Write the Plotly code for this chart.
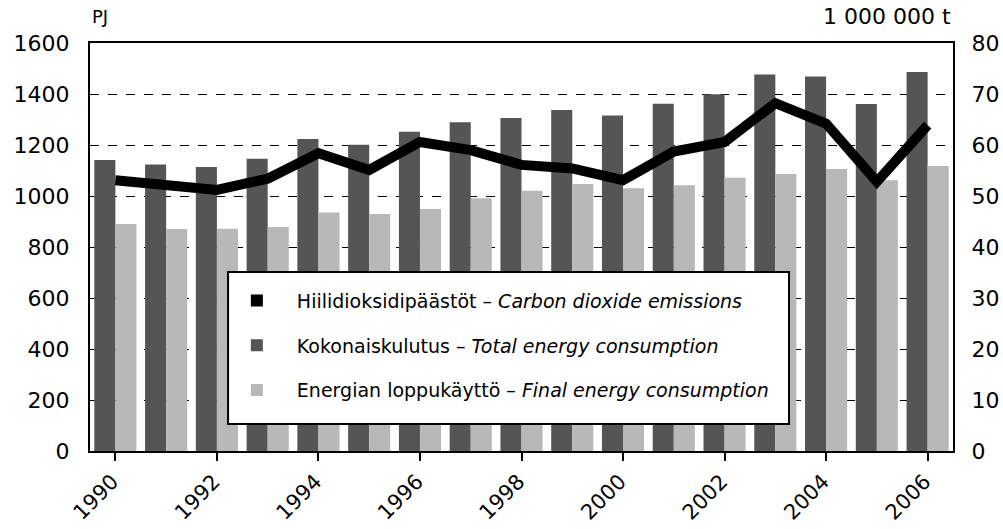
import plotly.graph_objects as go

years = list(range(1990, 2007))
total_energy = [1141, 1124, 1114, 1146, 1224, 1201, 1252, 1289, 1306, 1337, 1316, 1362, 1399, 1476, 1469, 1361, 1486]
final_energy = [890, 871, 872, 878, 935, 929, 949, 991, 1021, 1047, 1030, 1042, 1072, 1086, 1106, 1062, 1118]
co2 = [53.1, 52.2, 51.2, 53.4, 58.4, 55.1, 60.6, 59.0, 56.1, 55.4, 53.1, 58.7, 60.6, 68.2, 64.2, 52.8, 63.9]

label_co2 = "Hiilidioksidipäästöt – <i>Carbon dioxide emissions</i>"
label_total = "Kokonaiskulutus – <i>Total energy consumption</i>"
label_final = "Energian loppukäyttö – <i>Final energy consumption</i>"

FONT = "DejaVu Sans"
DARK = "#555555"
LIGHT = "#b8b8b8"

fig = go.Figure()
fig.add_trace(go.Bar(x=years, y=total_energy, marker=dict(color=DARK, line=dict(width=0)),
                     showlegend=False, name=label_total))
fig.add_trace(go.Bar(x=years, y=final_energy, marker=dict(color=LIGHT, line=dict(width=0)),
                     showlegend=False, name=label_final))
fig.add_trace(go.Scatter(x=years, y=co2, yaxis="y2", mode="lines",
                         line=dict(color="black", width=10), showlegend=False, name=label_co2))

# legend entries (square markers as in the original)
for name, col, grp in [(label_co2, "black", "a"), (label_total, DARK, "b"), (label_final, LIGHT, "c")]:
    fig.add_trace(go.Scatter(x=[None], y=[None], mode="markers", name=name, legendgroup=grp,
                             marker=dict(symbol="square", size=12, color=col)))

fig.update_layout(
    width=1003, height=529,
    margin=dict(l=90, r=50, t=43, b=78, autoexpand=False),
    paper_bgcolor="white", plot_bgcolor="white",
    barmode="group", bargap=0.17, bargroupgap=0,
    font=dict(family=FONT, color="black", size=22),
    xaxis=dict(range=[1989.5, 2006.5], tickmode="array", tickvals=years[::2],
               ticktext=[str(y) for y in years[::2]], tickangle=-45,
               ticks="outside", ticklen=8, tickwidth=1.5, tickcolor="black",
               showline=True, linecolor="black", linewidth=2, mirror=True,
               showgrid=False, zeroline=False, tickfont=dict(size=21),
               ticklabelshift=-3, automargin=False),
    yaxis=dict(range=[0, 1600], dtick=200, showgrid=True, gridcolor="black",
               griddash="dash", gridwidth=1, showline=True, linecolor="black",
               linewidth=2, mirror=True, zeroline=False,
               ticks="outside", ticklen=14, tickcolor="rgba(0,0,0,0)",
               tickfont=dict(size=22), automargin=False),
    yaxis2=dict(range=[0, 80], dtick=10, overlaying="y", side="right",
                showgrid=False, zeroline=False, showline=False,
                ticks="outside", ticklen=13, tickcolor="rgba(0,0,0,0)",
                tickfont=dict(size=22), automargin=False),
    legend=dict(x=0.147, y=0.415, xanchor="left", yanchor="top",
                bgcolor="rgba(0,0,0,0)", borderwidth=0, itemwidth=70,
                font=dict(size=19, family=FONT), tracegroupgap=17,
                traceorder="grouped"),
    shapes=[dict(type="rect", xref="paper", yref="paper", x0=0.160, x1=0.810,
                 y0=0.066, y1=0.439, fillcolor="white",
                 line=dict(color="black", width=2), layer="above")],
    annotations=[
        dict(text="PJ", xref="paper", yref="paper", x=0, y=1.065, xanchor="left",
             yanchor="middle", showarrow=False, font=dict(size=18)),
        dict(text="1 000 000 t", xref="paper", yref="paper", x=1, y=1.065, xanchor="right",
             yanchor="middle", showarrow=False, font=dict(size=22)),
    ],
)

fig.write_html("out.html", config={"displayModeBar": False},
               post_script="document.body.style.margin='0px';")
